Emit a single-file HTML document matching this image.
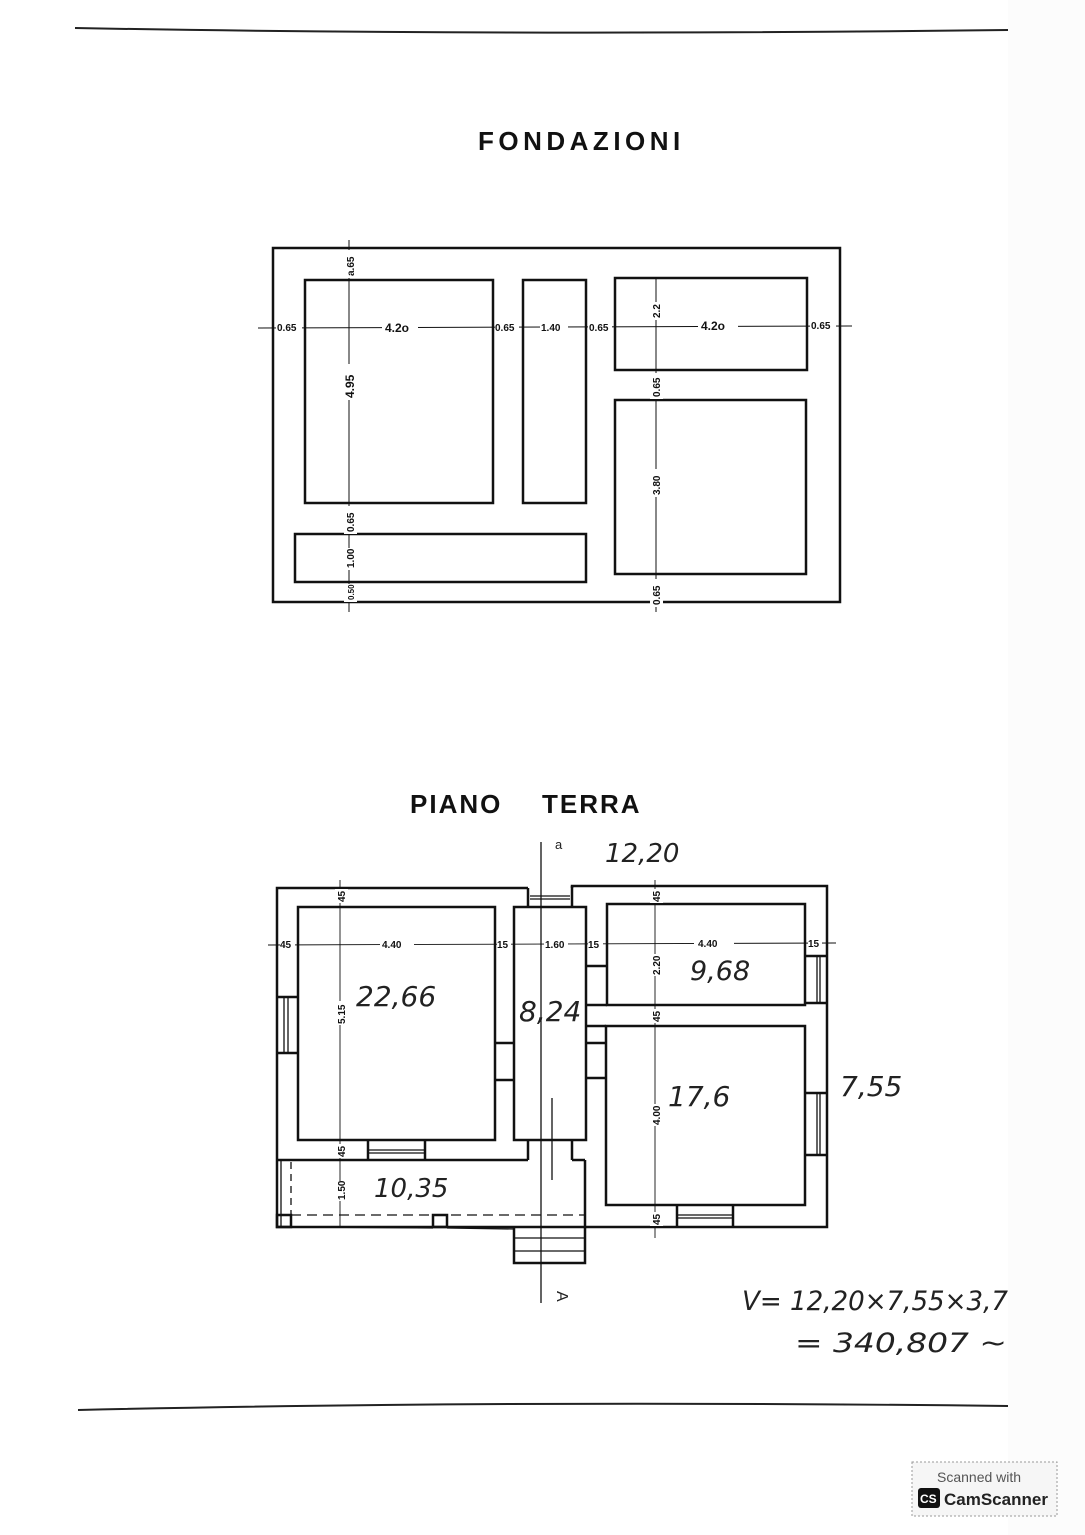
<!DOCTYPE html>
<html><head><meta charset="utf-8"><style>
html,body{margin:0;padding:0;background:#fff;}
svg{display:block;}
.t{font-family:"Liberation Sans",sans-serif;font-weight:bold;fill:#111;}
.d{font-family:"Liberation Sans",sans-serif;font-weight:bold;font-size:10px;fill:#111;}
.h{font-family:"DejaVu Sans","Liberation Sans",sans-serif;fill:#222;font-size:27px;}
</style></head><body>
<svg width="1085" height="1535" viewBox="0 0 1085 1535" xmlns="http://www.w3.org/2000/svg">
<rect width="1085" height="1535" fill="#fff"/>
<rect x="1008" y="0" width="77" height="1535" fill="#fcfcfc"/>
<path d="M75 28 Q500 36 1008 30" stroke="#222" stroke-width="2" fill="none"/>
<path d="M78 1410 Q500 1400 1008 1406" stroke="#222" stroke-width="2" fill="none"/>
<text x="478" y="150" class="t" font-size="26" letter-spacing="4.5">FONDAZIONI</text>
<text x="410" y="813" class="t" font-size="26" letter-spacing="2">PIANO</text>
<text x="542" y="813" class="t" font-size="26" letter-spacing="2">TERRA</text>

<!-- FONDAZIONI -->
<g stroke="#111" stroke-width="2.5" fill="none">
<rect x="273" y="248" width="567" height="354"/>
<rect x="305" y="280" width="188" height="223"/>
<rect x="523" y="280" width="63" height="223"/>
<rect x="615" y="278" width="192" height="92"/>
<rect x="615" y="400" width="191" height="174"/>
<rect x="295" y="534" width="291" height="48"/>
</g>
<g stroke="#111" stroke-width="1" fill="none">
<line x1="258" y1="328" x2="852" y2="326"/>
<line x1="349" y1="240" x2="349" y2="612"/>
<line x1="656" y1="278" x2="656" y2="612"/>
</g>
<g class="d">
<rect x="276" y="320" width="26" height="14" fill="#fff"/><text x="277" y="331">0.65</text>
<rect x="382" y="320" width="36" height="14" fill="#fff"/><text x="385" y="332" font-size="12">4.2o</text>
<rect x="495" y="320" width="24" height="14" fill="#fff"/><text x="495" y="331">0.65</text>
<rect x="540" y="320" width="28" height="14" fill="#fff"/><text x="541" y="331">1.40</text>
<rect x="588" y="320" width="24" height="14" fill="#fff"/><text x="589" y="331">0.65</text>
<rect x="698" y="318" width="40" height="14" fill="#fff"/><text x="701" y="330" font-size="12">4.2o</text>
<rect x="810" y="318" width="26" height="14" fill="#fff"/><text x="811" y="329">0.65</text>
</g>
<g class="d">
<g transform="translate(354,276) rotate(-90)"><rect x="-2" y="-10" width="28" height="13" fill="#fff"/><text x="0" y="0">a.65</text></g>
<g transform="translate(354,398) rotate(-90)"><rect x="-2" y="-11" width="36" height="14" fill="#fff"/><text x="0" y="0" font-size="12">4.95</text></g>
<g transform="translate(354,532) rotate(-90)"><rect x="-2" y="-10" width="28" height="13" fill="#fff"/><text x="0" y="0">0.65</text></g>
<g transform="translate(354,568) rotate(-90)"><rect x="-2" y="-10" width="22" height="13" fill="#fff"/><text x="0" y="0">1.00</text></g>
<g transform="translate(354,600) rotate(-90)"><rect x="-2" y="-10" width="18" height="13" fill="#fff"/><text x="0" y="0" font-size="8">0.50</text></g>
<g transform="translate(660,318) rotate(-90)"><rect x="-2" y="-10" width="18" height="13" fill="#fff"/><text x="0" y="0">2.2</text></g>
<g transform="translate(660,397) rotate(-90)"><rect x="-2" y="-10" width="26" height="13" fill="#fff"/><text x="0" y="0">0.65</text></g>
<g transform="translate(660,495) rotate(-90)"><rect x="-2" y="-10" width="28" height="13" fill="#fff"/><text x="0" y="0">3.80</text></g>
<g transform="translate(660,605) rotate(-90)"><rect x="-2" y="-10" width="28" height="13" fill="#fff"/><text x="0" y="0">0.65</text></g>
</g>

<!-- PIANO TERRA -->
<g stroke="#111" stroke-width="2.5" fill="none">
<polyline points="528,888 277,888 277,1227 585,1227 585,1160"/>
<polyline points="572,888 572,886 827,886 827,1227 585,1227"/>
<line x1="528" y1="888" x2="528" y2="907"/>
<line x1="572" y1="886" x2="572" y2="907"/>
<rect x="298" y="907" width="197" height="233"/>
<rect x="514" y="907" width="72" height="233"/>
<rect x="607" y="904" width="198" height="101"/>
<rect x="606" y="1026" width="199" height="179"/>
<line x1="277" y1="1160" x2="528" y2="1160"/>
<line x1="572" y1="1160" x2="585" y2="1160"/>
<line x1="528" y1="1140" x2="528" y2="1160"/>
<line x1="572" y1="1140" x2="572" y2="1160"/>
<line x1="586" y1="1005" x2="607" y2="1005"/>
<line x1="586" y1="1026" x2="606" y2="1026"/>
<line x1="586" y1="966" x2="607" y2="966"/>
<line x1="586" y1="1043" x2="606" y2="1043"/>
<line x1="586" y1="1078" x2="606" y2="1078"/>
<line x1="495" y1="1043" x2="514" y2="1043"/>
<line x1="495" y1="1080" x2="514" y2="1080"/>
<line x1="805" y1="956" x2="827" y2="956"/>
<line x1="805" y1="1003" x2="827" y2="1003"/>
<line x1="805" y1="1093" x2="827" y2="1093"/>
<line x1="805" y1="1155" x2="827" y2="1155"/>
<line x1="277" y1="997" x2="298" y2="997"/>
<line x1="277" y1="1053" x2="298" y2="1053"/>
<line x1="368" y1="1140" x2="368" y2="1160"/>
<line x1="425" y1="1140" x2="425" y2="1160"/>
<line x1="677" y1="1205" x2="677" y2="1227"/>
<line x1="733" y1="1205" x2="733" y2="1227"/>
<rect x="277" y="1215" width="14" height="12"/>
<rect x="433" y="1215" width="14" height="12"/>
<polyline points="514,1227 514,1263 585,1263 585,1227"/>
</g>
<g stroke="#111" stroke-width="1.3" fill="none">
<line x1="530" y1="896" x2="570" y2="896"/><line x1="530" y1="899" x2="570" y2="899"/>
<line x1="284" y1="997" x2="284" y2="1053"/><line x1="288" y1="997" x2="288" y2="1053"/>
<line x1="817" y1="956" x2="817" y2="1003"/><line x1="820" y1="956" x2="820" y2="1003"/>
<line x1="817" y1="1093" x2="817" y2="1155"/><line x1="820" y1="1093" x2="820" y2="1155"/>
<line x1="368" y1="1150" x2="425" y2="1150"/><line x1="368" y1="1153" x2="425" y2="1153"/>
<line x1="677" y1="1215" x2="733" y2="1215"/><line x1="677" y1="1218" x2="733" y2="1218"/>
<line x1="514" y1="1238" x2="585" y2="1238"/><line x1="514" y1="1251" x2="585" y2="1251"/>
<line x1="281" y1="1160" x2="281" y2="1227"/>
<line x1="291" y1="1227" x2="433" y2="1228"/>
<line x1="447" y1="1228" x2="514" y2="1229"/>
<line x1="291" y1="1162" x2="291" y2="1215" stroke-dasharray="7,5"/>
<line x1="291" y1="1215" x2="585" y2="1215" stroke-dasharray="10,6"/>
<line x1="541" y1="842" x2="541" y2="1303"/>
<line x1="552" y1="1098" x2="552" y2="1180"/>
</g>
<g stroke="#111" stroke-width="0.9">
<line x1="268" y1="945" x2="836" y2="943"/>
<line x1="340" y1="880" x2="340" y2="1227"/>
<line x1="655" y1="880" x2="655" y2="1238"/>
</g>
<g class="d" font-size="10">
<rect x="280" y="937" width="15" height="13" fill="#fff"/><text x="280" y="948">45</text>
<rect x="380" y="937" width="34" height="13" fill="#fff"/><text x="382" y="948">4.40</text>
<rect x="497" y="937" width="14" height="13" fill="#fff"/><text x="497" y="948">15</text>
<rect x="544" y="937" width="24" height="13" fill="#fff"/><text x="545" y="948">1.60</text>
<rect x="588" y="937" width="15" height="13" fill="#fff"/><text x="588" y="948">15</text>
<rect x="694" y="936" width="40" height="13" fill="#fff"/><text x="698" y="947">4.40</text>
<rect x="808" y="936" width="14" height="13" fill="#fff"/><text x="808" y="947">15</text>
</g>
<g class="d" font-size="10">
<g transform="translate(345,902) rotate(-90)"><rect x="-1" y="-10" width="14" height="13" fill="#fff"/><text x="0" y="0">45</text></g>
<g transform="translate(345,1024) rotate(-90)"><rect x="-1" y="-10" width="24" height="13" fill="#fff"/><text x="0" y="0">5.15</text></g>
<g transform="translate(345,1157) rotate(-90)"><rect x="-1" y="-10" width="14" height="13" fill="#fff"/><text x="0" y="0">45</text></g>
<g transform="translate(345,1200) rotate(-90)"><rect x="-1" y="-10" width="20" height="13" fill="#fff"/><text x="0" y="0">1.50</text></g>
<g transform="translate(660,902) rotate(-90)"><rect x="-1" y="-10" width="14" height="13" fill="#fff"/><text x="0" y="0">45</text></g>
<g transform="translate(660,975) rotate(-90)"><rect x="-1" y="-10" width="22" height="13" fill="#fff"/><text x="0" y="0">2.20</text></g>
<g transform="translate(660,1022) rotate(-90)"><rect x="-1" y="-10" width="14" height="13" fill="#fff"/><text x="0" y="0">45</text></g>
<g transform="translate(660,1125) rotate(-90)"><rect x="-1" y="-10" width="22" height="13" fill="#fff"/><text x="0" y="0">4.00</text></g>
<g transform="translate(660,1225) rotate(-90)"><rect x="-1" y="-10" width="14" height="13" fill="#fff"/><text x="0" y="0">45</text></g>
</g>
<g class="h" font-style="italic">
<text x="605" y="862" font-size="26">12,20</text>
<text x="356" y="1006" font-size="28">22,66</text>
<text x="519" y="1021" font-size="28">8,24</text>
<text x="690" y="980" font-size="27">9,68</text>
<text x="668" y="1106" font-size="28">17,6</text>
<text x="840" y="1096" font-size="28">7,55</text>
<text x="374" y="1197" font-size="26">10,35</text>
<text x="742" y="1310" font-size="27" textLength="266" lengthAdjust="spacingAndGlyphs">V= 12,20×7,55×3,7</text>
<text x="795" y="1352" font-size="27" textLength="212" lengthAdjust="spacingAndGlyphs">= 340,807 ~</text>
</g>
<text x="555" y="849" font-family="Liberation Sans,sans-serif" font-size="13" fill="#222">a</text>
<text x="553" y="1305" font-family="Liberation Sans,sans-serif" font-size="16" fill="#222" transform="rotate(90 562 1300)">A</text>

<rect x="912" y="1462" width="145" height="54" fill="#f6f6f6" stroke="#999" stroke-dasharray="2,2"/>
<text x="937" y="1482" font-family="Liberation Sans,sans-serif" font-size="14" fill="#555">Scanned with</text>
<rect x="918" y="1488" width="22" height="20" rx="3" fill="#111"/>
<text x="920" y="1503" font-family="Liberation Sans,sans-serif" font-size="12" font-weight="bold" fill="#fff">CS</text>
<text x="944" y="1505" font-family="Liberation Sans,sans-serif" font-size="17" font-weight="bold" fill="#222">CamScanner</text>
</svg>
</body></html>
